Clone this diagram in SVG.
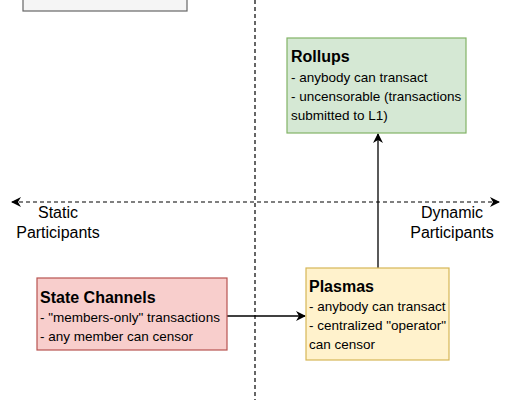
<svg xmlns="http://www.w3.org/2000/svg" width="520" height="400" viewBox="0 0 520 400">
<style>
text{font-family:"Liberation Sans",Arial,Helvetica,sans-serif;font-size:13.5px;fill:#000}
.t{font-weight:bold;font-size:16px}
.lbl{font-size:16px}
.dash{stroke:#000;stroke-width:1.2;stroke-dasharray:4 3;fill:none}
.sol{stroke:#000;stroke-width:1.3;fill:none}
</style>
<defs>
<marker id="ah" viewBox="0 0 10 10" refX="9" refY="5" markerWidth="10" markerHeight="10" markerUnits="userSpaceOnUse" orient="auto-start-reverse">
<path d="M0,0 L10,5 L0,10 L3,5 Z" fill="#000"/>
</marker>
</defs>
<rect width="520" height="400" fill="#fff"/>
<g id="topbox"><rect x="23" y="-20" width="164" height="31" fill="#f5f5f5" stroke="#666" stroke-width="1.2"/></g>
<g id="connectors">
<line class="dash" x1="255" y1="0" x2="255" y2="400"/>
<line class="dash" x1="12" y1="202" x2="499" y2="202" marker-start="url(#ah)" marker-end="url(#ah)"/>
<line class="sol" x1="378" y1="268" x2="378" y2="134" marker-end="url(#ah)"/>
<line class="sol" x1="227" y1="316" x2="305" y2="316" marker-end="url(#ah)"/>
</g>
<g id="static"><text class="lbl" x="58" y="218" text-anchor="middle">Static</text><text class="lbl" x="58" y="238" text-anchor="middle">Participants</text></g>
<g id="dynamic"><text class="lbl" x="452" y="218" text-anchor="middle">Dynamic</text><text class="lbl" x="452" y="238" text-anchor="middle">Participants</text></g>
<g id="rollups">
<rect x="287" y="38" width="179" height="95" fill="#d5e8d4" stroke="#82b366" stroke-width="1.2"/>
<text class="t" x="291" y="62">Rollups</text>
<text x="291" y="82">- anybody can transact</text>
<text x="291" y="101">- uncensorable (transactions</text>
<text x="291" y="120">submitted to L1)</text>
</g>
<g id="statechannels">
<rect x="37" y="278" width="190" height="72" fill="#f8cecc" stroke="#b85450" stroke-width="1.2"/>
<text class="t" x="40" y="303">State Channels</text>
<text x="40" y="322">- "members-only" transactions</text>
<text x="40" y="341">- any member can censor</text>
</g>
<g id="plasmas">
<rect x="306" y="268" width="143" height="92" fill="#fff2cc" stroke="#d6b656" stroke-width="1.2"/>
<text class="t" x="309" y="292">Plasmas</text>
<text x="309" y="311">- anybody can transact</text>
<text x="309" y="330">- centralized "operator"</text>
<text x="309" y="349">can censor</text>
</g>
</svg>
